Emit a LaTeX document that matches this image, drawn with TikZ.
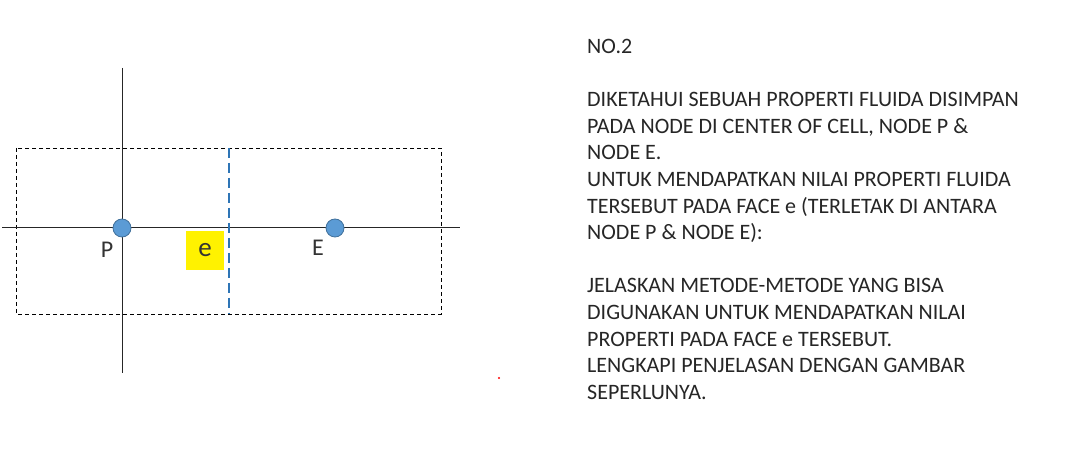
\documentclass[tikz,border=0pt]{standalone}
\usepackage{fontspec}
\setmainfont{Carlito}
\usepackage{xcolor}
\usetikzlibrary{positioning}

\definecolor{nodeblue}{HTML}{5B9BD5}
\definecolor{nodeedge}{HTML}{41719C}
\definecolor{faceblue}{HTML}{2E75B6}

\begin{document}
\begin{tikzpicture}[x=1pt,y=-1pt,
	cellline/.style={line width=0.8pt,dash pattern=on 4pt off 3pt},
	faceline/.style={faceblue,line width=2.4pt,dash pattern=on 10pt off 5pt},
	gridnode/.style={circle,draw=nodeedge,fill=nodeblue,line width=0.8pt,minimum size=18pt,inner sep=0pt},
	lbl/.style={font=\fontsize{24}{24}\selectfont,text=black!80,inner sep=0pt}]
	\useasboundingbox[fill=white] (0,0) rectangle (1066,454);
	
	% cells
	\coordinate (cell nw) at (16,148);
	\coordinate (cell se) at (441,314);
	\draw[cellline] (cell nw) rectangle (cell se);
	
	% axes
	\coordinate (axis top) at (122,68);
	\coordinate (axis bottom) at (122,373);
	\coordinate (axis left) at (2,227.5);
	\coordinate (axis right) at (460,227.5);
	\draw[line width=0.8pt,black!85] (axis top) -- (axis bottom);
	\draw[line width=1.3pt,black!85] (axis left) -- (axis right);
	
	% face e
	\coordinate (face top) at (229,148);
	\coordinate (face bottom) at (229,314);
	\draw[faceline] (face top) -- (face bottom);
	
	\node[gridnode] (P) at (122,228) {};
	\node[gridnode] (E) at (335,228) {};
	\node[lbl] (P label) at (107,250) {P};
	\node[lbl] (E label) at (318,247.5) {E};
	\node[fill=yellow,minimum width=38pt,minimum height=39pt,inner sep=0pt,font=\fontsize{27}{27}\selectfont,text=black!80] (face e) at (205,250.5) {e};
	
	\fill[red] (499,378) circle (1.2pt);
	
	% soal
	\node[anchor=north west,inner sep=0pt,align=left,text=black!85,font=\fontsize{22}{26.6}\selectfont] (soal) at (587,39) {%
		NO.2\\[26.6pt]
		DIKETAHUI SEBUAH PROPERTI FLUIDA DISIMPAN\\
		PADA NODE DI CENTER OF CELL, NODE P \&\\
		NODE E.\\
		UNTUK MENDAPATKAN NILAI PROPERTI FLUIDA\\
		TERSEBUT PADA FACE e (TERLETAK DI ANTARA\\
		NODE P \& NODE E):\\[26.6pt]
		JELASKAN METODE-METODE YANG BISA\\
		DIGUNAKAN UNTUK MENDAPATKAN NILAI\\
		PROPERTI PADA FACE e TERSEBUT.\\
		LENGKAPI PENJELASAN DENGAN GAMBAR\\
		SEPERLUNYA.};
	
\end{tikzpicture}
\end{document}
